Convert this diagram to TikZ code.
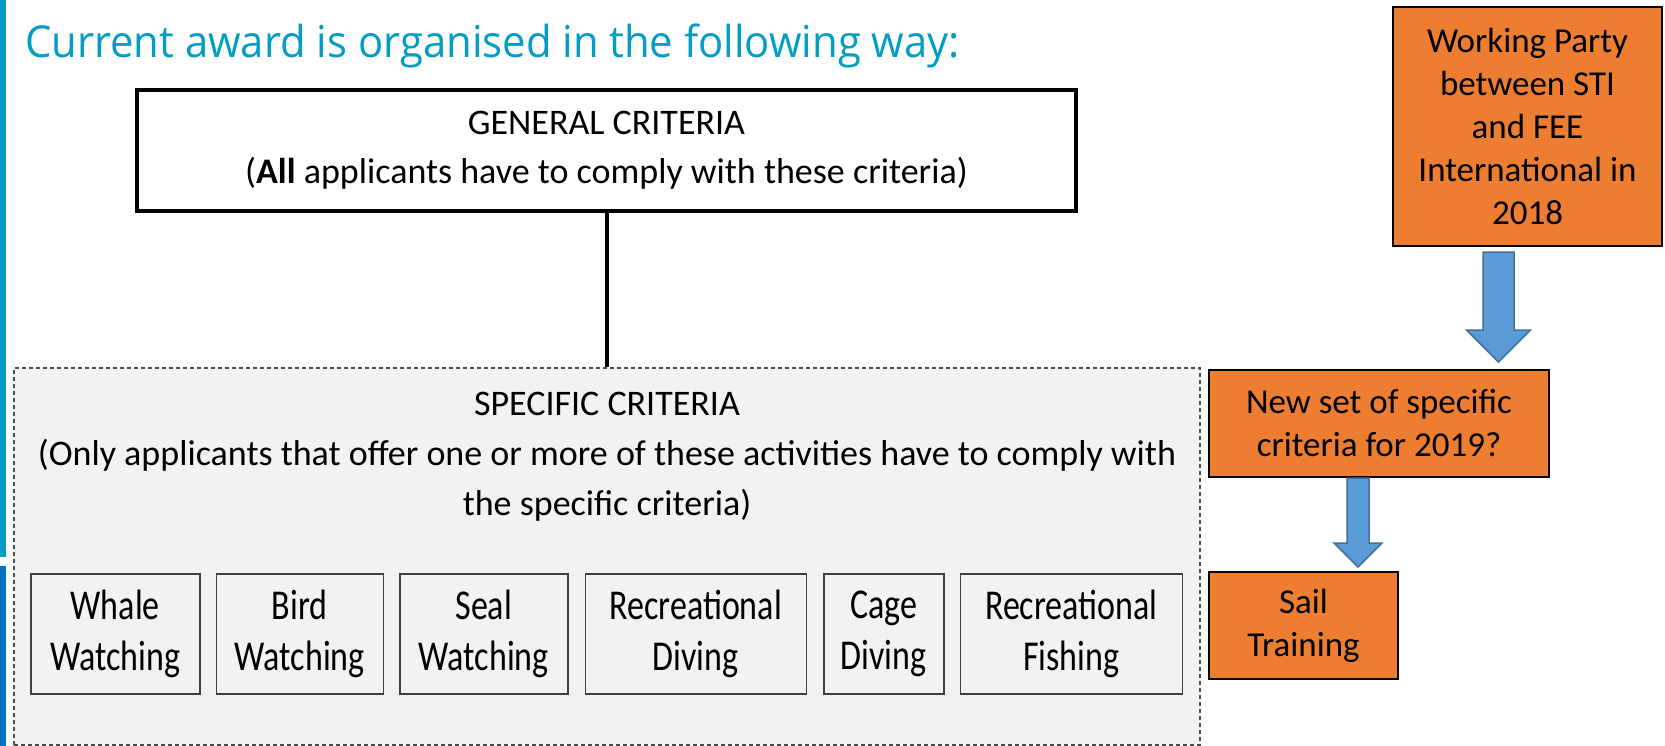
\documentclass[tikz,border=0pt]{standalone}
\usepackage{fontspec}
\setmainfont{Carlito}
\newfontfamily\titlefont[FakeStretch=0.95]{Open Sans}
\newfontfamily\narrowfont[FakeStretch=0.8]{Carlito}
\usetikzlibrary{positioning, calc}
\definecolor{titleblue}{RGB}{0,157,196}
\definecolor{stripblue}{RGB}{0,114,198}
\definecolor{boxgray}{RGB}{242,242,242}
\definecolor{orangefill}{RGB}{237,125,49}
\definecolor{arrowfill}{RGB}{91,155,213}
\definecolor{arrowline}{RGB}{65,113,156}
\tikzstyle{general} = [draw, line width=4pt, rectangle, align=center,
font=\fontsize{36}{49}\selectfont, minimum width=939pt, minimum height=121pt]
\tikzstyle{specific} = [draw=black!70, fill=boxgray, rectangle, line width=1.2pt,
dash pattern=on 4pt off 3pt, minimum width=1186pt, minimum height=377pt]
\tikzstyle{spectext} = [align=center, font=\fontsize{36}{50}\selectfont]
\tikzstyle{activity} = [draw=black!75, line width=1.5pt, rectangle, align=center,
font=\narrowfont\fontsize{42.5}{51}\selectfont, minimum height=120pt, inner sep=0pt]
\tikzstyle{proposal} = [draw, line width=2pt, fill=orangefill, rectangle, align=center,
font=\fontsize{35}{43}\selectfont, inner sep=0pt]
\tikzstyle{bluearrow} = [fill=arrowfill, draw=arrowline, line width=1.5pt]
% block arrow pointing down: from #1 to the height of #2
\newcommand\fatarrow[5]{%
  \draw [bluearrow] let \p1 = (#1), \p2 = (#2) in
    (\x1-#3,\y1) -- (\x1-#3,\y2+#5) -- (\x1-#4,\y2+#5) -- (\x1,\y2)
    -- (\x1+#4,\y2+#5) -- (\x1+#3,\y2+#5) -- (\x1+#3,\y1) -- cycle;}

\begin{document}
\begin{tikzpicture}[x=1pt, y=-1pt]
    \useasboundingbox (0,0) rectangle (1665,746);
    \fill [titleblue] (0,0) rectangle (6,557);
    \fill [stripblue] (0,566) rectangle (6,746);

    \node [anchor=base west, inner sep=0pt, text=titleblue,
    font=\titlefont\fontsize{44}{50}\selectfont] (title) at (25,58)
    {Current award is organised in the following way:};

    % the two levels of criteria
    \node [general] (general) at (606.5,150.5)
    {GENERAL CRITERIA\\(\textbf{All} applicants have to comply with these criteria)};
    \node [specific] (specific) at (607,556.5) {};
    \node [spectext] (spectext) at (607,457) {SPECIFIC CRITERIA\\(Only applicants that offer one or more of these activities have to comply with\\the specific criteria)};
    \draw [line width=4pt] (general.south) -- (general.south |- specific.north);

    % activities
    \node [activity, minimum width=169pt, anchor=north west] (whale) at (30,573) {Whale\\Watching};
    \node [activity, minimum width=167pt, right=15pt of whale] (bird) {Bird\\Watching};
    \node [activity, minimum width=168pt, right=15pt of bird] (seal) {Seal\\Watching};
    \node [activity, minimum width=221pt, right=16pt of seal] (diving) {Recreational\\Diving};
    \node [activity, minimum width=120pt, right=16pt of diving] (cage) {Cage\\Diving};
    \node [activity, minimum width=222pt, right=15pt of cage] (fishing) {Recreational\\Fishing};

    % the proposal on the right
    \node [proposal, minimum width=269pt, minimum height=239pt] (party) at (1527.5,126.5)
    {Working Party\\between STI\\and FEE\\International in\\2018};
    \node [proposal, minimum width=340pt, minimum height=107pt] (newset) at (1379,423.5)
    {New set of specific\\criteria for 2019?};
    \node [proposal, minimum width=189pt, minimum height=107pt] (sail) at (1303.5,625.5)
    {Sail\\Training};

    \fatarrow{[xshift=-29pt,yshift=-5pt]party.south}{[yshift=7pt]newset.north}{15.5pt}{32pt}{32pt}
    \fatarrow{[xshift=-21pt]newset.south}{[yshift=4pt]sail.north}{11pt}{24pt}{24pt}
\end{tikzpicture}
\end{document}
